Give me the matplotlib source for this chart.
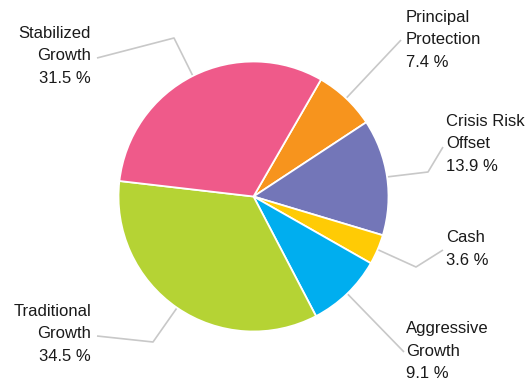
import numpy as np
import matplotlib.pyplot as plt

plt.rcParams['font.family'] = ['Liberation Sans', 'DejaVu Sans']

# allocation, listed clockwise from the top right
categories = ['Principal\nProtection', 'Crisis Risk\nOffset', 'Cash',
              'Aggressive\nGrowth', 'Traditional\nGrowth', 'Stabilized\nGrowth']
shares = [7.4, 13.9, 3.6, 9.1, 34.5, 31.5]
colors = ['#F7941D', '#7376B8', '#FFCB05', '#00AEEF', '#B5D334', '#EF5A8A']

# label layout in pixel units (y measured from the bottom)
text_pos = [(406, 346), (446, 242), (446, 137), (406, 35), (91, 52), (91, 330)]
text_ha = ['left', 'left', 'left', 'left', 'right', 'right']
elbows = [(401, 346), (428, 214), (416, 119), (404, 34), (153, 44), (174, 348)]
ends = [(401, 346), (443, 239), (443, 136), (404, 34), (97, 50), (97, 328)]

W, H = 526, 386
fig = plt.figure(figsize=(W / 100, H / 100), dpi=100)
ax = fig.add_axes([0, 0, 1, 1])

center = (253.5, 189.5)
radius = 135
wedges, _ = ax.pie(shares, colors=colors, startangle=60, counterclock=False,
                   center=center, radius=radius, frame=True,
                   wedgeprops=dict(edgecolor='white', linewidth=1.3))
ax.set_xlim(0, W)
ax.set_ylim(0, H)
ax.set_aspect('equal')
ax.axis('off')

for w, lab, val, tp, ha, el, en in zip(wedges, categories, shares, text_pos,
                                       text_ha, elbows, ends):
    mid = np.deg2rad((w.theta1 + w.theta2) / 2)
    ax_x = center[0] + radius * np.cos(mid)
    ax_y = center[1] + radius * np.sin(mid)
    ax.plot([ax_x, el[0], en[0]], [ax_y, el[1], en[1]], color='#C8C8C8',
            lw=1.2, zorder=0, solid_capstyle='butt')
    ax.text(tp[0], tp[1], f'{lab}\n{val} %', ha=ha, va='center',
            multialignment=ha, fontsize=12, color='#1A1A1A',
            linespacing=1.62)

fig.savefig('out.png', dpi=100)
